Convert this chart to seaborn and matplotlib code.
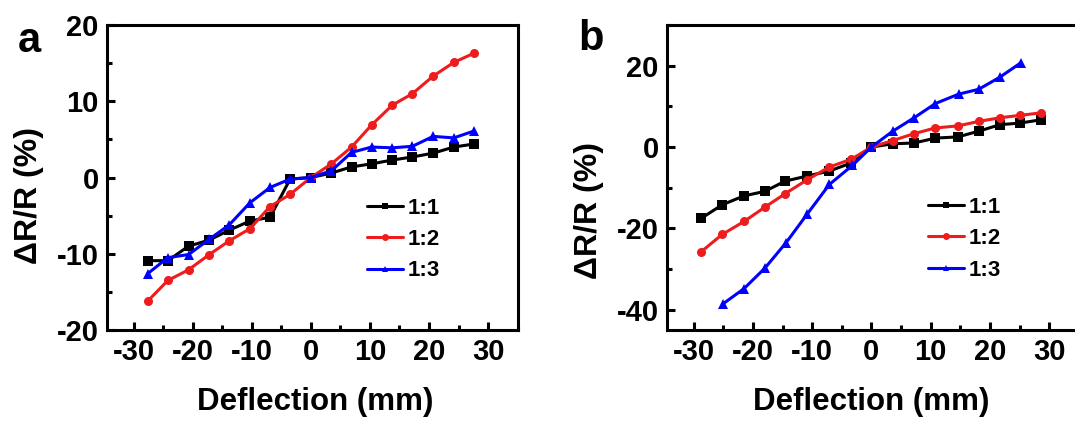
import matplotlib
matplotlib.use("Agg")
import matplotlib.pyplot as plt
import pandas as pd
import seaborn as sns
from matplotlib.lines import Line2D
from matplotlib.ticker import MultipleLocator

# panel a
a_x = [-27.6, -24.2, -20.7, -17.2, -13.8, -10.3, -6.9, -3.5, 0.0,
       3.5, 6.9, 10.3, 13.8, 17.2, 20.7, 24.2, 27.6]
a_11 = [-10.9, -10.9, -9.0, -8.2, -6.9, -5.7, -5.2, -0.2, 0.0,
        0.6, 1.4, 1.8, 2.3, 2.7, 3.2, 4.0, 4.4]
a_12 = [-16.2, -13.5, -12.1, -10.1, -8.3, -6.7, -3.8, -2.2, 0.0,
        1.8, 4.0, 6.9, 9.5, 11.0, 13.3, 15.1, 16.3]
a_13 = [-12.6, -10.5, -10.1, -8.1, -6.2, -3.3, -1.3, -0.2, 0.0,
        0.9, 3.3, 4.0, 3.9, 4.1, 5.4, 5.2, 6.1]

# panel b
b_x = [-28.7, -25.2, -21.5, -18.0, -14.6, -10.8, -7.1, -3.4, 0.0,
       3.6, 7.2, 10.8, 14.6, 18.1, 21.7, 25.1, 28.6]
b_11 = [-17.5, -14.2, -12.0, -10.9, -8.4, -7.1, -5.9, -3.9, 0.0,
        0.8, 1.0, 2.2, 2.5, 3.9, 5.5, 5.9, 6.7]
b_12 = [-25.7, -21.5, -18.3, -14.8, -11.5, -8.0, -4.9, -3.0, 0.0,
        1.6, 3.3, 4.7, 5.2, 6.3, 7.2, 7.8, 8.4]
b13_x = [-25.0, -21.5, -18.0, -14.4, -10.8, -7.1, -3.2, 0.0,
         3.6, 7.2, 10.8, 14.7, 18.1, 21.7, 25.2]
b_13 = [-38.5, -34.8, -29.8, -23.5, -16.4, -9.2, -4.5, 0.0,
        3.9, 7.2, 10.7, 13.0, 14.2, 17.2, 20.7]

ratios = ["1:1", "1:2", "1:3"]
colors = {"1:1": "black", "1:2": "#ee1c1c", "1:3": "#0000ff"}
markers = {"1:1": "s", "1:2": "o", "1:3": "^"}


def make_df(series):
    rows = []
    for name, xs, ys in series:
        for x, y in zip(xs, ys):
            rows.append({"x": x, "y": y, "ratio": name})
    return pd.DataFrame(rows)


df_a = make_df([("1:1", a_x, a_11), ("1:2", a_x, a_12), ("1:3", a_x, a_13)])
df_b = make_df([("1:1", b_x, b_11), ("1:2", b_x, b_12), ("1:3", b13_x, b_13)])

sns.set_theme(style="ticks")
plt.rcParams["font.family"] = ["Liberation Sans", "DejaVu Sans"]
plt.rcParams["font.weight"] = "bold"
plt.rcParams["axes.unicode_minus"] = False
for key in ["text.color", "axes.labelcolor", "xtick.color", "ytick.color",
            "axes.edgecolor"]:
    plt.rcParams[key] = "black"

fig = plt.figure(figsize=(10.75, 4.21), dpi=100)
ax_a = fig.add_axes([0.0995, 0.216, 0.382, 0.7245])
ax_b = fig.add_axes([0.6205, 0.216, 0.383, 0.7245])


def draw(ax, df, ylim, ymaj, leg_anchor, xlab_x, ylab_y):
    sns.lineplot(data=df, x="x", y="y", hue="ratio", style="ratio",
                 hue_order=ratios, style_order=ratios, palette=colors,
                 markers=markers, dashes=False, linewidth=2.2,
                 markersize=6.5, markeredgewidth=0, ax=ax, sort=False,
                 legend=False)
    ax.set_xlim(-34.5, 35)
    ax.set_ylim(*ylim)
    ax.xaxis.set_major_locator(MultipleLocator(10))
    ax.xaxis.set_minor_locator(MultipleLocator(5))
    ax.yaxis.set_major_locator(MultipleLocator(ymaj))
    ax.yaxis.set_minor_locator(MultipleLocator(ymaj / 2))
    ax.tick_params(which="both", direction="in", width=2.2,
                   labelsize=21, pad=6, top=False, right=False)
    ax.tick_params(which="major", length=6)
    ax.tick_params(which="minor", length=3.5)
    for lab in ax.get_xticklabels() + ax.get_yticklabels():
        lab.set_fontweight("bold")
    for sp in ax.spines.values():
        sp.set_linewidth(2.2)
    ax.set_xlabel("Deflection (mm)", fontsize=22.5, fontweight="bold")
    ax.xaxis.set_label_coords(xlab_x, -0.187)
    ax.set_ylabel("\u0394R/R (%)", fontsize=23, fontweight="bold")
    ax.yaxis.set_label_coords(-0.153, ylab_y)
    handles = [Line2D([], [], color=colors[r], marker=markers[r], lw=2.2,
                      ms=5, markeredgewidth=0, label=r) for r in ratios]
    ax.legend(handles=handles, loc="center left", bbox_to_anchor=leg_anchor,
              frameon=False, prop={"size": 16, "weight": "bold"},
              handlelength=1.62, handletextpad=0.22, labelspacing=0.47,
              borderaxespad=0, borderpad=0)


draw(ax_a, df_a, (-20, 20), 10, (0.633, 0.297), 0.506, 0.44)
draw(ax_b, df_b, (-45, 30), 20, (0.634, 0.30), 0.495, 0.393)

fig.text(0.0167, 0.876, "a", fontsize=30, fontweight="bold", va="baseline")
fig.text(0.538, 0.881, "b", fontsize=30, fontweight="bold", va="baseline")

fig.savefig("out.png", dpi=100)
